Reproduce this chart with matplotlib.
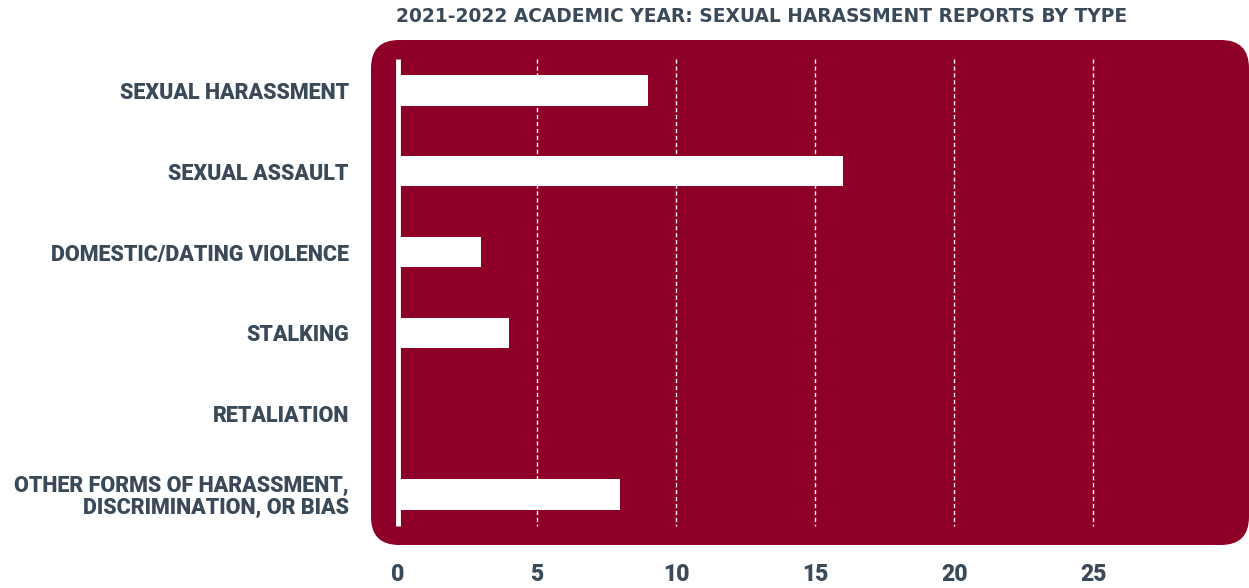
import matplotlib
matplotlib.use("Agg")
import matplotlib.pyplot as plt
from matplotlib.patches import FancyBboxPatch

# data
categories = [
    "SEXUAL HARASSMENT",
    "SEXUAL ASSAULT",
    "DOMESTIC/DATING VIOLENCE",
    "STALKING",
    "RETALIATION",
    "OTHER FORMS OF HARASSMENT,\nDISCRIMINATION, OR BIAS",
]
reports = [9, 16, 3, 4, 0, 8]
x_ticks = [0, 5, 10, 15, 20, 25]
title = "2021-2022 ACADEMIC YEAR: SEXUAL HARASSMENT REPORTS BY TYPE"

PANEL = "#8f0028"
TEXT = "#3b4a59"
W, H = 1249, 588

fig = plt.figure(figsize=(W / 100, H / 100), dpi=100)
# axes covers the rounded red panel
left, right, top, bottom = 371, 1249, 40, 545
ax = fig.add_axes([left / W, 1 - bottom / H, (right - left) / W, (bottom - top) / H])
ax.set_facecolor("none")

aspect = (right - left) / (bottom - top)
panel = FancyBboxPatch((0, 0), 1, 1, boxstyle="round,pad=0,rounding_size=0.032",
                       mutation_aspect=aspect, transform=ax.transAxes,
                       facecolor=PANEL, edgecolor="none", zorder=0, clip_on=False)
ax.add_patch(panel)

y = list(range(len(categories)))
ax.set_xlim(-0.97, 30.6)
ax.set_ylim(len(categories) - 1 + 0.62, -0.62)

# dashed grid + zero line
ax.vlines(x_ticks[1:], -0.39, len(categories) - 1 + 0.39, colors="white",
          linestyles=(0, (3, 2)), linewidth=1, zorder=1)
ax.vlines(0, -0.39, len(categories) - 1 + 0.39, colors="white", linewidth=3.5, zorder=3)

ax.barh(y, reports, height=0.38, color="white", zorder=2)

ax.set_yticks(y)
ax.set_yticklabels(categories, fontsize=15.5, fontweight="black", family="Roboto",
                   color=TEXT, linespacing=0.95)
ax.set_xticks(x_ticks)
ax.set_xticklabels([str(t) for t in x_ticks], fontsize=16.5, fontweight="black",
                   family="Roboto", color=TEXT)
ax.tick_params(axis="y", length=0, pad=16)
ax.tick_params(axis="x", length=0, pad=13)
for s in ax.spines.values():
    s.set_visible(False)

fig.text(762 / W, 1 - 16 / H, title, ha="center", va="center", fontsize=13.4,
         fontweight="bold", family="DejaVu Sans", color=TEXT)

fig.savefig("out.png", dpi=100)
